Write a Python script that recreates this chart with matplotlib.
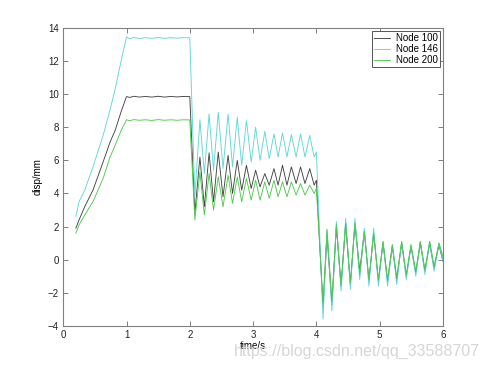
import matplotlib
matplotlib.use("Agg")
import matplotlib.pyplot as plt

plt.rcParams['font.family'] = ['Liberation Sans', 'DejaVu Sans']

time_s = [0.2, 0.25, 0.34, 0.47, 0.63, 0.74, 0.82, 0.92, 1.0,
          1.05, 1.12, 1.2, 1.3, 1.4, 1.5, 1.6, 1.7, 1.8, 1.9, 2.0,
          2.08, 2.16, 2.23, 2.305, 2.375, 2.45, 2.525, 2.605, 2.675, 2.75,
          2.82, 2.895, 2.97, 3.04, 3.11, 3.185, 3.255, 3.33, 3.395, 3.465,
          3.535, 3.605, 3.68, 3.75, 3.82, 3.895, 3.965, 4.0,
          4.105, 4.168, 4.245, 4.316, 4.39, 4.463, 4.537, 4.61, 4.685, 4.758,
          4.83, 4.905, 4.98, 5.053, 5.125, 5.2, 5.27, 5.347, 5.42, 5.495,
          5.57, 5.642, 5.715, 5.79, 5.86, 5.937, 6.0]

node100 = [1.9, 2.4, 3.2, 4.2, 5.9, 7.1, 7.8, 9.0, 9.85,
           9.8, 9.87, 9.82, 9.86, 9.82, 9.87, 9.82, 9.86, 9.83, 9.86, 9.85,
           2.8, 6.2, 3.2, 6.45, 3.5, 6.5, 3.8, 6.3, 4.0, 6.0,
           4.2, 5.7, 4.3, 5.4, 4.4, 5.2, 4.5, 5.5, 4.5, 5.7,
           4.5, 5.6, 4.6, 5.6, 4.6, 5.5, 4.5, 4.8,
           -2.9, 1.5, -2.7, 2.0, -1.6, 2.2, -1.5, 2.2, -0.7, 1.7,
           -1.3, 1.6, -1.3, 1.0, -1.3, 0.8, -1.2, 1.0, -1.0, 0.8,
           -0.8, 1.0, -0.7, 1.0, -0.5, 0.9, -0.1]

node146 = [2.6, 3.5, 4.2, 5.6, 7.5, 9.05, 10.3, 12.1, 13.45,
           13.35, 13.42, 13.36, 13.41, 13.37, 13.42, 13.37, 13.41, 13.38, 13.41, 13.4,
           3.8, 8.45, 5.2, 8.8, 5.4, 8.9, 5.5, 8.8, 5.6, 8.6,
           5.7, 8.4, 5.9, 8.0, 6.0, 7.75, 6.1, 7.6, 6.2, 7.65,
           6.2, 7.55, 6.2, 7.6, 6.2, 7.5, 6.2, 6.5,
           -3.6, 1.85, -3.1, 2.3, -1.9, 2.5, -1.8, 2.5, -1.2, 1.9,
           -1.6, 1.9, -1.6, 1.1, -1.6, 0.9, -1.5, 1.1, -1.2, 0.9,
           -1.0, 1.1, -0.9, 1.1, -0.7, 1.0, -0.1]

node200 = [1.6, 2.1, 2.7, 3.5, 4.9, 6.2, 6.9, 7.85, 8.45,
           8.4, 8.46, 8.42, 8.45, 8.41, 8.46, 8.42, 8.45, 8.42, 8.45, 8.44,
           2.4, 5.3, 2.7, 5.2, 3.0, 5.0, 3.2, 5.1, 3.4, 5.0,
           3.5, 4.9, 3.6, 4.8, 3.6, 4.7, 3.7, 4.8, 3.8, 4.7,
           3.8, 4.7, 3.9, 4.6, 3.9, 4.5, 4.0, 4.3,
           -2.6, 1.8, -2.5, 2.1, -1.5, 2.2, -1.4, 2.2, -0.9, 1.7,
           -1.2, 1.6, -1.2, 1.1, -1.2, 0.9, -1.1, 1.1, -0.9, 0.9,
           -0.7, 1.1, -0.6, 1.1, -0.4, 1.0, 0.2]

labels = ['Node 100', 'Node 146', 'Node 200']
colors = ['#444444', '#5ed8d8', '#4ccc4c']
x_ticks = [0, 1, 2, 3, 4, 5, 6]
y_ticks = [-4, -2, 0, 2, 4, 6, 8, 10, 12, 14]

fig = plt.figure(figsize=(4.9, 3.67), dpi=100)
ax = fig.add_axes([0.129, 0.112, 0.775, 0.812])

for vals, lab, col in zip([node100, node146, node200], labels, colors):
    ax.plot(time_s, vals, color=col, lw=0.65, label=lab)

ax.set_xlim(0, 6)
ax.set_ylim(-4, 14)
ax.set_xticks(x_ticks)
ax.set_yticks(y_ticks)
spine_col = '#808080'
for s in ax.spines.values():
    s.set_color(spine_col)
    s.set_linewidth(0.8)
ax.tick_params(direction='in', top=True, right=True, length=3.5, width=0.7,
               color=spine_col, labelsize=7, labelcolor='#222222', pad=3)
ax.set_xlabel('time/s', fontsize=7, labelpad=1)
ax.set_ylabel('disp/mm', fontsize=7, labelpad=4)

leg = ax.legend(loc='upper right', fontsize=7, fancybox=False, framealpha=1,
                edgecolor='#555555', handlelength=1.6, borderaxespad=0.35,
                borderpad=0.2, labelspacing=0.1, handletextpad=0.6)
leg.get_frame().set_linewidth(0.7)

fig.text(0.98, 0.042, 'https://blog.csdn.net/qq_33588707', ha='right', va='center',
         fontsize=11.5, color='#d6d6d6', zorder=0)

fig.savefig('out.png', dpi=100)
